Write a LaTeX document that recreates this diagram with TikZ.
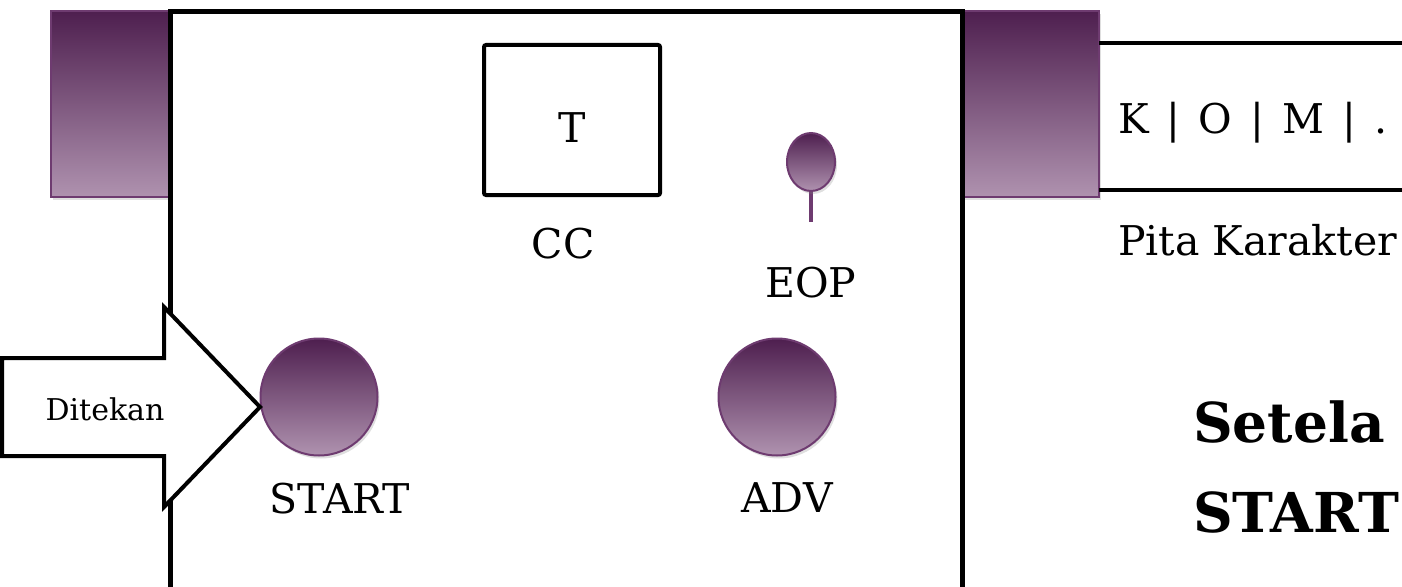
\documentclass[tikz,border=0pt]{standalone}
\usepackage{fontspec}
\setmainfont{DejaVu Serif}
\usepackage{tikz}
\usetikzlibrary{positioning, shadows, shapes.geometric}
\definecolor{plumdark}{HTML}{4E1F4F}
\definecolor{plummid}{HTML}{8A6C89}
\definecolor{plumlight}{HTML}{AF92AF}
\definecolor{plumedge}{HTML}{6E3B70}
\newcommand{\tapesep}{\hspace{.44em}|\hspace{.44em}}

\begin{document}
\begin{tikzpicture}[x=1pt,y=-1pt,
  glass/.style={draw=plumedge, line width=2pt, top color=plumdark,
    middle color=plummid, bottom color=plumlight,
    drop shadow={opacity=0.25, shadow xshift=2pt, shadow yshift=-3pt}},
  button/.style={glass, circle, minimum size=117pt, inner sep=0pt},
  lbl/.style={font=\fontsize{41}{48}\selectfont, anchor=base},
  caption/.style={font=\fontsize{55}{80}\selectfont\bfseries, anchor=base west, inner sep=0pt}]
\useasboundingbox (0,0) rectangle (1402,586);
% purple rollers behind the machine
\draw[glass] (51,11) rectangle (170,197);
\draw[glass] (963,11) rectangle (1099,197);
% the machine
\draw[line width=5pt] (170,600) |- (962,12) -- (962,600);
\node[draw, line width=4pt, rounded corners=2pt, minimum width=176pt, minimum height=150pt] (cc) at (572,120) {};
\node[lbl] at (572,142) {T};
\node[lbl] (cclbl) at (563,258) {CC};
% end of tape lamp
\draw[plumedge, line width=4pt] (811,190) -- (811,222);
\node[glass, ellipse, minimum width=48pt, minimum height=58pt, inner sep=0pt] (eop) at (811,162) {};
\node[lbl] (eoplbl) at (811,297) {EOP};
% buttons
\node[button] (start) at (319,397) {};
\node[button] (adv) at (777,397) {};
\node[lbl] (startlbl) at (340,513) {START};
\node[lbl] (advlbl) at (787,512) {ADV};
% pressing arrow
\draw[line width=4pt, fill=white, line join=miter] (2,358) -- (164,358) -- (164,307) -- (260,407)
  -- (164,507) -- (164,456) -- (2,456) -- cycle;
\node[font=\fontsize{30}{36}\selectfont, anchor=base] (press) at (105,420) {Ditekan};
% character tape
\draw[line width=4pt] (1099,43) -- (1410,43);
\draw[line width=4pt] (1099,190) -- (1410,190);
\node[lbl, anchor=base west, inner sep=0pt] (tape) at (1118,133) {K\tapesep O\tapesep M\tapesep .};
\node[lbl, anchor=base west, inner sep=0pt] (tapelbl) at (1118,255) {Pita Karakter};
% caption
\node[caption] (cap1) at (1193,442) {Setela};
\node[caption] (cap2) at (1193,532) {START};
\end{tikzpicture}
\end{document}
